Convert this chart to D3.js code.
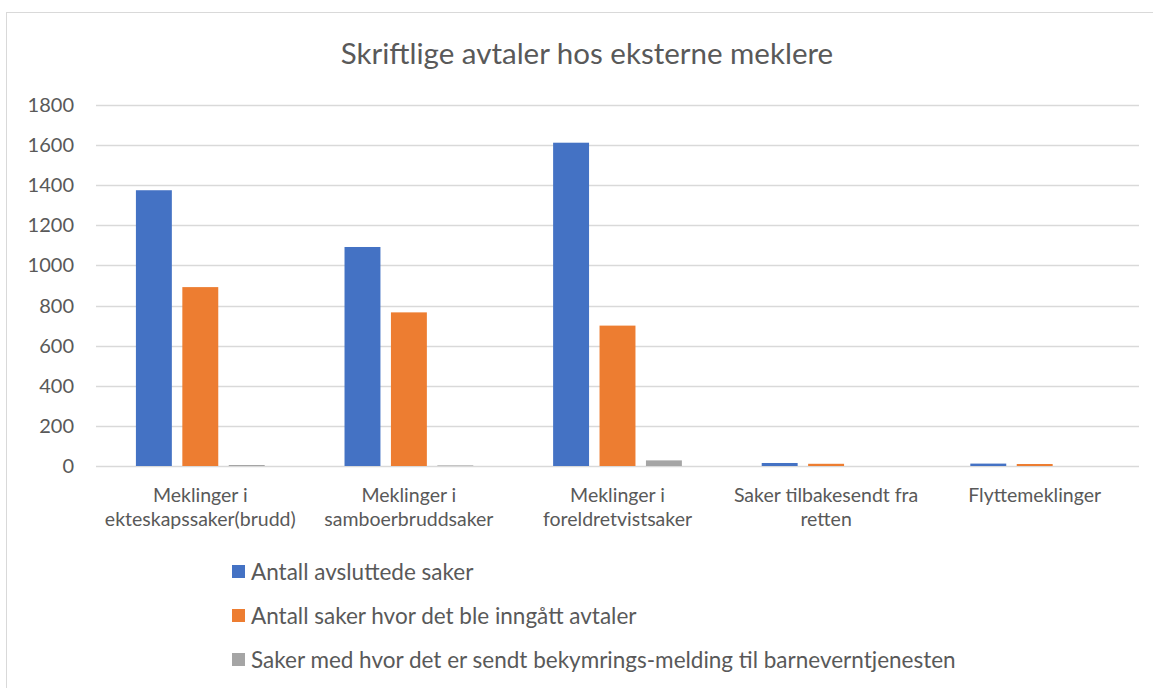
<!DOCTYPE html>
<html>
<head>
<meta charset="utf-8">
<script src="https://cdn.jsdelivr.net/npm/d3@7"></script>
<style>
  body { margin: 0; background: #fff; }
  text { font-family: Lato, "Open Sans", sans-serif; fill: #595959; }
</style>
</head>
<body>
<div id="chart"></div>
<script>
var width = 1153, height = 688;

var categories = [
  ["Meklinger i", "ekteskapssaker(brudd)"],
  ["Meklinger i", "samboerbruddsaker"],
  ["Meklinger i", "foreldretvistsaker"],
  ["Saker tilbakesendt fra", "retten"],
  ["Flyttemeklinger"]
];
var seriesNames = [
  "Antall avsluttede saker",
  "Antall saker hvor det ble inngått avtaler",
  "Saker med hvor det er sendt bekymrings-melding til barneverntjenesten"
];
var avsluttede = [1375, 1092, 1612, 15, 12];
var avtaler = [892, 766, 700, 11, 10];
var bekymring = [5, 3, 28, 0, 0];
var yTicks = [0, 200, 400, 600, 800, 1000, 1200, 1400, 1600, 1800];
var colors = ["#4472c4", "#ed7d31", "#a5a5a5"];

var series = [avsluttede, avtaler, bekymring];

var svg = d3.select("#chart").append("svg")
  .attr("width", width)
  .attr("height", height);

// chart frame
svg.append("rect")
  .attr("x", 6.5).attr("y", 12.5)
  .attr("width", width - 6).attr("height", height - 12)
  .attr("fill", "#fff").attr("stroke", "#d9d9d9");

svg.append("text")
  .attr("x", 587).attr("y", 64)
  .attr("text-anchor", "middle")
  .style("font-size", "29.5px")
  .text("Skriftlige avtaler hos eksterne meklere");

var plot = { left: 96, right: 1139, top: 105, bottom: 466 };

var x0 = d3.scaleBand()
  .domain(d3.range(categories.length))
  .range([plot.left, plot.right]);

var x1 = d3.scaleBand()
  .domain(d3.range(series.length))
  .range([0, x0.bandwidth()])
  .paddingInner(0.226)
  .paddingOuter(0.86);

var y = d3.scaleLinear()
  .domain([0, 1800])
  .range([plot.bottom, plot.top]);

// gridlines
svg.append("g").selectAll("line")
  .data(yTicks)
  .enter().append("line")
  .attr("x1", plot.left).attr("x2", plot.right)
  .attr("y1", function(d) { return Math.round(y(d)) + 0.5; })
  .attr("y2", function(d) { return Math.round(y(d)) + 0.5; })
  .attr("stroke", "#d9d9d9")
  .attr("stroke-width", 1.3);

svg.append("g").selectAll("text")
  .data(yTicks)
  .enter().append("text")
  .attr("x", 74)
  .attr("y", function(d) { return y(d); })
  .attr("dy", "0.35em")
  .attr("text-anchor", "end")
  .style("font-size", "20px")
  .text(function(d) { return d; });

// bars
var groups = svg.append("g").selectAll("g")
  .data(categories)
  .enter().append("g")
  .attr("transform", function(d, i) { return "translate(" + x0(i) + ",0)"; });

groups.selectAll("rect")
  .data(function(d, i) { return series.map(function(s, k) { return { k: k, v: s[i] }; }); })
  .enter().append("rect")
  .attr("x", function(d) { return x1(d.k); })
  .attr("width", x1.bandwidth())
  .attr("y", function(d) { return y(d.v); })
  .attr("height", function(d) { return y(0) - y(d.v); })
  .attr("fill", function(d) { return colors[d.k]; });

// category labels
groups.append("text")
  .attr("text-anchor", "middle")
  .style("font-size", "19.5px")
  .selectAll("tspan")
  .data(function(d) { return d; })
  .enter().append("tspan")
  .attr("x", x0.bandwidth() / 2)
  .attr("y", function(d, i) { return 502 + i * 24; })
  .text(function(d) { return d; });

// legend
var legend = svg.append("g").selectAll("g")
  .data(seriesNames)
  .enter().append("g")
  .attr("transform", function(d, i) { return "translate(232," + (572 + i * 44) + ")"; });

legend.append("rect")
  .attr("x", 0).attr("y", -7)
  .attr("width", 13).attr("height", 13)
  .attr("fill", function(d, i) { return colors[i]; });

legend.append("text")
  .attr("x", 19)
  .attr("dy", "0.35em")
  .style("font-size", "22.5px")
  .text(function(d) { return d; });
</script>
</body>
</html>
